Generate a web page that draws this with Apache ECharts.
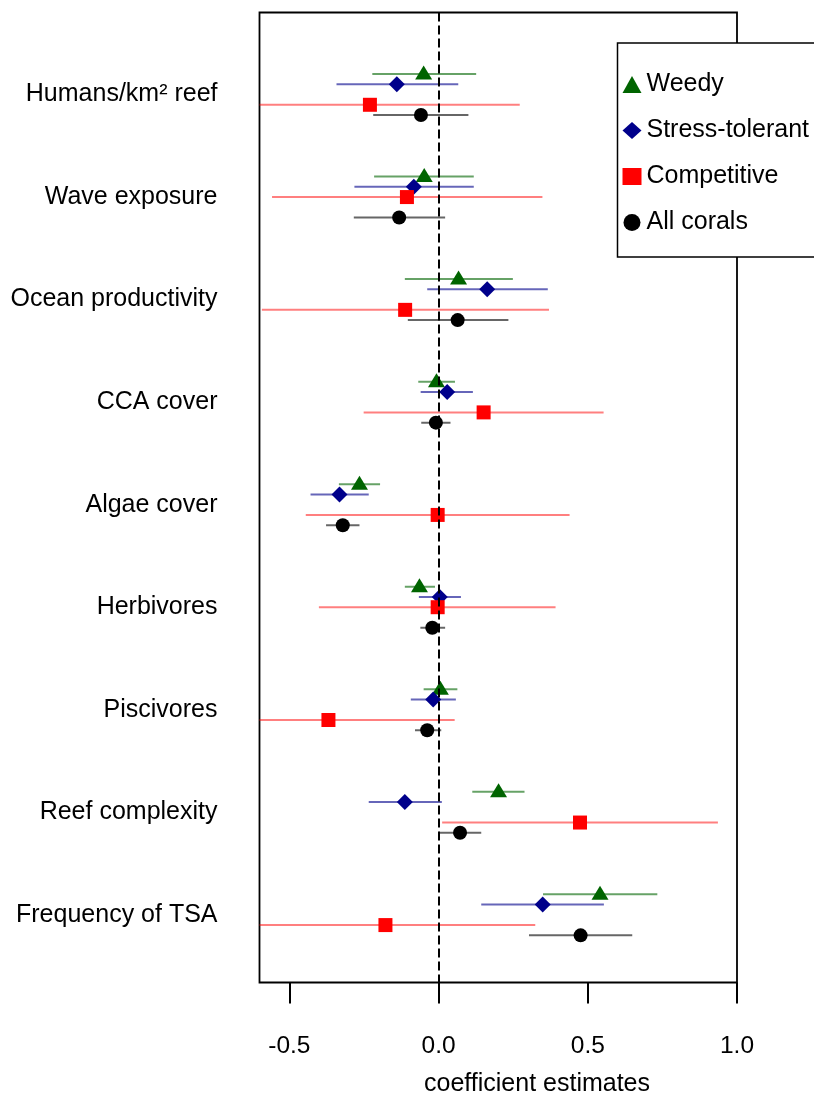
<!DOCTYPE html>
<html>
<head>
<meta charset="utf-8">
<title>Coefficient estimates</title>
<script src="https://cdn.jsdelivr.net/npm/echarts@6/dist/echarts.min.js"></script>
<style>
  html, body { margin: 0; padding: 0; background: #fff; }
  #chart { width: 814px; height: 1096px; }
</style>
</head>
<body>
<div id="chart"></div>
<script>
// Predictors, top to bottom
const categories = [
  'Humans/km\u00B2 reef', 'Wave exposure', 'Ocean productivity', 'CCA cover',
  'Algae cover', 'Herbivores', 'Piscivores', 'Reef complexity', 'Frequency of TSA'
];

// Weedy corals: estimate and interval bounds
const weedyEst = [-0.050, -0.048, 0.067, -0.007, -0.265, -0.064, 0.006, 0.201, 0.541];
const weedyLo  = [-0.222, -0.216, -0.113, -0.068, -0.334, -0.113, -0.050, 0.113, 0.350];
const weedyHi  = [0.126, 0.118, 0.249, 0.055, -0.196, -0.012, 0.063, 0.288, 0.733];

// Stress-tolerant corals
const stressEst = [-0.140, -0.083, 0.163, 0.029, -0.332, 0.004, -0.018, -0.113, 0.349];
const stressLo  = [-0.342, -0.282, -0.038, -0.060, -0.429, -0.066, -0.093, -0.234, 0.143];
const stressHi  = [0.066, 0.118, 0.366, 0.115, -0.234, 0.075, 0.058, 0.011, 0.554];

// Competitive corals
const compEst = [-0.230, -0.106, -0.112, 0.151, -0.003, -0.003, -0.369, 0.474, -0.178];
const compLo  = [-0.732, -0.558, -0.592, -0.251, -0.445, -0.401, -0.792, 0.012, -0.680];
const compHi  = [0.272, 0.348, 0.370, 0.553, 0.439, 0.392, 0.054, 0.936, 0.324];

// All corals
const allEst = [-0.059, -0.132, 0.064, -0.009, -0.321, -0.021, -0.038, 0.072, 0.476];
const allLo  = [-0.219, -0.284, -0.103, -0.058, -0.377, -0.061, -0.079, 0.000, 0.303];
const allHi  = [0.100, 0.022, 0.234, 0.040, -0.265, 0.022, 0.009, 0.143, 0.649];

// Vertical offset of each group within a predictor row
const weedyShift  = [-0.2, -0.2, -0.2, -0.2, -0.2, -0.2, -0.2, -0.2, -0.2];
const stressShift = [-0.1, -0.1, -0.1, -0.1, -0.1, -0.1, -0.1, -0.1, -0.1];
const compShift   = [0.1, 0, 0.1, 0.1, 0.1, 0, 0.1, 0.1, 0.1];
const allShift    = [0.2, 0.2, 0.2, 0.2, 0.2, 0.2, 0.2, 0.2, 0.2];

const xTicks = [-0.5, 0, 0.5, 1.0];

const FONT = 'Liberation Sans, Arial, sans-serif';

const groups = [
  { name: 'Weedy', est: weedyEst, lo: weedyLo, hi: weedyHi, shift: weedyShift,
    color: '#006400', bar: 'rgba(0,100,0,0.6)', symbol: 'triangle', size: [17, 14], offset: [0, -1.5] },
  { name: 'Stress-tolerant', est: stressEst, lo: stressLo, hi: stressHi, shift: stressShift,
    color: '#00008B', bar: 'rgba(0,0,139,0.6)', symbol: 'diamond', size: [16, 16], offset: [0, 0] },
  { name: 'Competitive', est: compEst, lo: compLo, hi: compHi, shift: compShift,
    color: '#FF0000', bar: 'rgba(255,0,0,0.5)', symbol: 'rect', size: [14, 14], offset: [0, 0] },
  { name: 'All corals', est: allEst, lo: allLo, hi: allHi, shift: allShift,
    color: '#000000', bar: 'rgba(0,0,0,0.6)', symbol: 'circle', size: 14, offset: [0, 0] }
];

function errorBars(g) {
  return {
    type: 'custom',
    name: g.name + ' interval',
    z: 2,
    clip: true,
    silent: true,
    encode: { x: [0, 1], y: 2 },
    data: categories.map((c, i) => [g.lo[i], g.hi[i], i + g.shift[i]]),
    renderItem: function (params, api) {
      const y = api.value(2);
      const a = api.coord([api.value(0), y]);
      const b = api.coord([api.value(1), y]);
      const cs = params.coordSys;
      return {
        type: 'line',
        shape: {
          x1: Math.max(a[0], cs.x), y1: a[1],
          x2: Math.min(b[0], cs.x + cs.width), y2: b[1]
        },
        style: { stroke: g.bar, lineWidth: 2 }
      };
    }
  };
}

function points(g) {
  return {
    type: 'scatter',
    name: g.name,
    z: 3,
    symbol: g.symbol,
    symbolSize: g.size,
    symbolOffset: g.offset,
    itemStyle: { color: g.color, opacity: 1 },
    data: categories.map((c, i) => [g.est[i], i + g.shift[i]])
  };
}

const series = [];
groups.forEach(g => series.push(errorBars(g)));
groups.forEach(g => series.push(points(g)));

// Dashed reference line at zero
series[series.length - 1].markLine = {
  silent: true,
  symbol: 'none',
  label: { show: false },
  lineStyle: { color: '#000', type: [9, 4], width: 2 },
  data: [{ xAxis: 0 }]
};

const chart = echarts.init(document.getElementById('chart'), null, { renderer: 'canvas' });
chart.setOption({
  animation: false,
  backgroundColor: '#fff',
  textStyle: { fontFamily: FONT },
  grid: {
    show: true, borderColor: '#000', borderWidth: 1.8, backgroundColor: 'transparent',
    left: 259.5, top: 12.5, width: 477.5, height: 970
  },
  xAxis: {
    type: 'value', min: -0.6, max: 1.0,
    axisLine: { show: false, onZero: false },
    splitLine: { show: false },
    axisTick: { show: true, customValues: xTicks, length: 21, lineStyle: { color: '#000', width: 2 } },
    axisLabel: {
      customValues: xTicks, margin: 51, color: '#000', fontSize: 24.5, fontFamily: FONT,
      formatter: v => v.toFixed(1)
    }
  },
  yAxis: {
    type: 'value', inverse: true, min: -0.8, max: 8.66,
    axisLine: { show: false, onZero: false },
    splitLine: { show: false },
    axisTick: { show: false },
    axisLabel: {
      customValues: categories.map((c, i) => i), margin: 42, color: '#000', fontSize: 25, fontFamily: FONT,
      formatter: v => categories[Math.round(v)]
    }
  },
  legend: {
    data: groups.map(g => g.name),
    orient: 'vertical',
    left: 617.5, top: 43,
    padding: [29, 60, 22, 5],
    itemGap: 21,
    itemWidth: 19, itemHeight: 17,
    backgroundColor: '#fff',
    borderColor: '#000', borderWidth: 1.5, borderRadius: 0,
    selectedMode: false,
    textStyle: { color: '#000', fontSize: 25, fontFamily: FONT },
    z: 10
  },
  graphic: [{
    type: 'text', x: 537, y: 1084, z: 10,
    style: { text: 'coefficient estimates', fill: '#000', font: '25px ' + FONT, align: 'center', verticalAlign: 'middle' }
  }],
  series: series
});
</script>
</body>
</html>
